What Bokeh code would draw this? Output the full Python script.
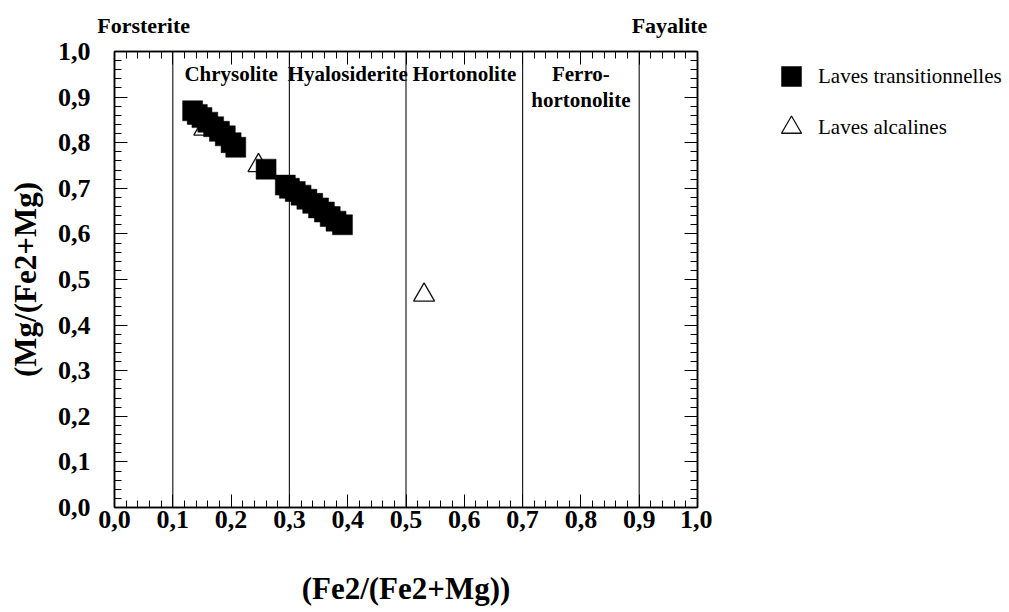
from bokeh.plotting import figure
from bokeh.layouts import row
from bokeh.models import (LinearAxis, FixedTicker, Legend, LegendItem,
                          Range1d, ColumnDataSource)
from bokeh.core.properties import value
from bokeh.embed import file_html
from bokeh.resources import INLINE

# ---- data ----
trans_x = [0.134, 0.142, 0.150, 0.160, 0.170, 0.180, 0.190, 0.200, 0.208,
           0.260,
           0.293, 0.300, 0.310, 0.320, 0.330, 0.340, 0.350, 0.360, 0.370, 0.380, 0.391]
trans_y = [0.870, 0.862, 0.855, 0.845, 0.835, 0.825, 0.815, 0.800, 0.790,
           0.742,
           0.707, 0.700, 0.693, 0.685, 0.676, 0.667, 0.657, 0.648, 0.638, 0.628, 0.620]

alk_x = [0.154, 0.247, 0.531]
alk_y = [0.830, 0.750, 0.466]

tick_values = [0.0, 0.1, 0.2, 0.3, 0.4, 0.5, 0.6, 0.7, 0.8, 0.9, 1.0]
tick_labels = ["0,0", "0,1", "0,2", "0,3", "0,4", "0,5", "0,6", "0,7", "0,8", "0,9", "1,0"]
minor_values = [round(i * 0.02, 2) for i in range(51)]

zone_bounds = [0.1, 0.3, 0.5, 0.7, 0.9]
zone_names = ["Chrysolite", "Hyalosiderite", "Hortonolite", "Ferro-\nhortonolite"]

series_names = ["Laves transitionnelles", "Laves alcalines"]
x_title = "(Fe2/(Fe2+Mg))"
y_title = "(Mg/(Fe2+Mg)"
end_left = "Forsterite"
end_right = "Fayalite"

# ---- layout constants ----
W_TOTAL, H = 1005, 608
FL, FT, FR, FB = 114, 50, 697, 510
W_MAIN = 712
SERIF = "Liberation Serif"

p = figure(width=W_MAIN, height=H, x_range=Range1d(0, 1), y_range=Range1d(0, 1),
           output_backend="svg", toolbar_location=None,
           min_border_left=FL, min_border_right=W_MAIN - FR,
           min_border_top=FT, min_border_bottom=H - FB)
p.title.visible = False
p.xgrid.visible = False
p.ygrid.visible = False
p.outline_line_color = "black"
p.outline_line_width = 1.5
p.background_fill_color = "white"
p.border_fill_color = "white"

overrides = {v: l for v, l in zip(tick_values, tick_labels)}
blank = {v: "" for v in tick_values}


def style_axis(ax, labels):
    ax.ticker = FixedTicker(ticks=tick_values, minor_ticks=minor_values)
    ax.major_label_overrides = labels
    ax.major_tick_in = 13
    ax.major_tick_out = 0
    ax.minor_tick_in = 7
    ax.minor_tick_out = 0
    ax.axis_line_color = "black"
    ax.axis_line_width = 1.5
    ax.major_tick_line_color = "black"
    ax.minor_tick_line_color = "black"
    ax.major_label_text_font = SERIF
    ax.major_label_text_font_style = "bold"
    ax.major_label_text_font_size = "26px"
    ax.major_label_text_color = "black"
    ax.axis_label_text_font = SERIF
    ax.axis_label_text_font_style = "bold"
    ax.axis_label_text_font_size = "31px"
    ax.axis_label_text_color = "black"


xa = p.xaxis[0]
style_axis(xa, overrides)
xa.major_label_standoff = 3
xa.axis_label = x_title
xa.axis_label_standoff = 40

ya = p.yaxis[0]
style_axis(ya, overrides)
ya.major_label_standoff = 24
ya.axis_label = y_title
ya.axis_label_standoff = 12

top_ax = LinearAxis()
style_axis(top_ax, blank)
top_ax.major_label_text_font_size = "1px"
top_ax.major_label_standoff = 0
p.add_layout(top_ax, "above")

right_ax = LinearAxis()
style_axis(right_ax, blank)
right_ax.major_label_text_font_size = "1px"
right_ax.major_label_standoff = 0
p.add_layout(right_ax, "right")

# end-member names above the frame (label-only axis)
end_ax = LinearAxis(ticker=FixedTicker(ticks=[0.05, 0.952]),
                    major_label_overrides={0.05: end_left, 0.952: end_right},
                    major_tick_in=0, major_tick_out=0, minor_tick_in=0, minor_tick_out=0,
                    axis_line_color=None, major_label_standoff=14,
                    major_label_text_font=SERIF, major_label_text_font_style="bold",
                    major_label_text_font_size="22px", major_label_text_color="black")
p.add_layout(end_ax, "above")

# zone boundaries
n = len(zone_bounds)
p.segment(x0=zone_bounds, y0=[0] * n, x1=zone_bounds, y1=[1] * n,
          line_color="#222222", line_width=1.2)

# zone names centred between boundaries
mids = [(a + b) / 2 for a, b in zip(zone_bounds[:-1], zone_bounds[1:])]
zsrc = ColumnDataSource(dict(x=mids, y=[0.977] * len(mids), t=zone_names))
p.text(x="x", y="y", text="t", source=zsrc, text_font=value(SERIF),
       text_font_style="bold", text_font_size="21px", text_align="center",
       text_baseline="top", text_color="black", text_line_height=1.1)

# data
TRI = dict(marker="triangle", fill_alpha=0, line_color="#111111", line_width=1.3)
SQ = dict(marker="square", fill_color="black", line_color="black", line_width=0.5)
p.scatter(alk_x, alk_y, size=21, **TRI)
p.scatter(trans_x, trans_y, size=20, **SQ)

# ---- legend panel (separate figure to the right; its ranges exclude the data,
#      so only the legend keys are visible) ----
W_LEG = W_TOTAL - W_MAIN
lg = figure(width=W_LEG, height=H, x_range=Range1d(5, 6), y_range=Range1d(5, 6),
            output_backend="svg", toolbar_location=None,
            min_border_left=766 - W_MAIN, min_border_right=0,
            min_border_top=51, min_border_bottom=0)
lg.title.visible = False
lg.axis.visible = False
lg.xgrid.visible = False
lg.ygrid.visible = False
lg.outline_line_color = None
lg.background_fill_color = "white"
lg.border_fill_color = "white"
r_sq = lg.scatter(trans_x, trans_y, size=20, **SQ)
r_tri = lg.scatter(alk_x, alk_y, size=21, **TRI)

legend = Legend(items=[LegendItem(label=series_names[0], renderers=[r_sq]),
                       LegendItem(label=series_names[1], renderers=[r_tri])],
                location="top_left", margin=0, padding=0, spacing=1,
                glyph_width=50, glyph_height=50, label_standoff=2,
                border_line_alpha=0, background_fill_alpha=0,
                label_text_font=SERIF, label_text_font_style="normal",
                label_text_font_size="21px", label_text_color="black")
lg.add_layout(legend, "center")

layout = row(p, lg, spacing=0)
open("out.html", "w").write(file_html(layout, INLINE))
